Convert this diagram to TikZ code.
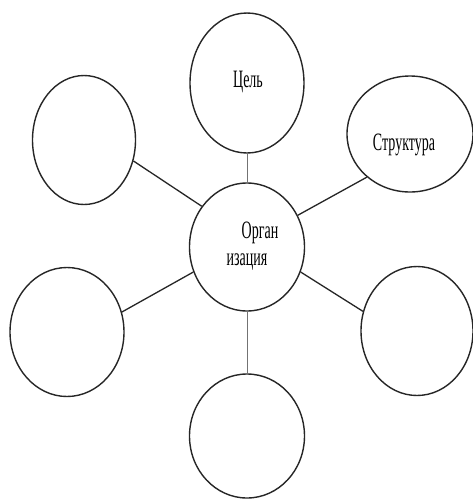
\documentclass[tikz,border=0pt]{standalone}
\usepackage{fontspec}
\setmainfont{Liberation Serif}
\usetikzlibrary{shapes.geometric}
\tikzset{
  bubble/.style={draw=black!85, line width=1.4pt, ellipse, inner sep=0pt},
  link/.style={draw=black!85, line width=1.3pt},
  vlink/.style={draw=black!55, line width=1pt},
  lbl/.style={inner sep=0pt, font=\fontsize{25}{25}\selectfont}
}
\newcommand{\narrow}[1]{\scalebox{0.56}[1]{#1}}
\begin{document}
\begin{tikzpicture}[x=1pt,y=-1pt]
\useasboundingbox (0,0) rectangle (473,499);
\fill[white] (0,0) rectangle (473,499);
% ellipses
\node[bubble, minimum width=115pt, minimum height=128pt] (c)  at (247,247) {};
\node[bubble, minimum width=114pt, minimum height=140pt] (t)  at (247,83) {};
\node[bubble, minimum width=126pt, minimum height=116pt] (rt) at (410,134) {};
\node[bubble, minimum width=103pt, minimum height=129pt] (lt) at (84,140) {};
\node[bubble, minimum width=114pt, minimum height=129pt] (lb) at (67,332) {};
\node[bubble, minimum width=112pt, minimum height=129pt] (rb) at (417,331) {};
\node[bubble, minimum width=115pt, minimum height=124pt] (b)  at (247,436) {};
% labels
\node[lbl] (tl)  at (248,82)  {\narrow{Цель}};
\node[lbl] (rtl) at (404,145) {\narrow{Структура}};
\node[lbl] (cl1) at (260,233) {\narrow{Орган}};
\node[lbl] (cl2) at (247,262) {\narrow{изация}};
% connectors
\draw[vlink] (t.south) -- (c.north);
\draw[vlink] (c.south) -- (b.north);
\draw[link] (c.138) -- (lt.-23);
\draw[link] (c.205.7) -- (lb.20);
\draw[link] (c.32) -- (rt.225);
\draw[link] (c.-25) -- (rb.160);
\end{tikzpicture}
\end{document}
